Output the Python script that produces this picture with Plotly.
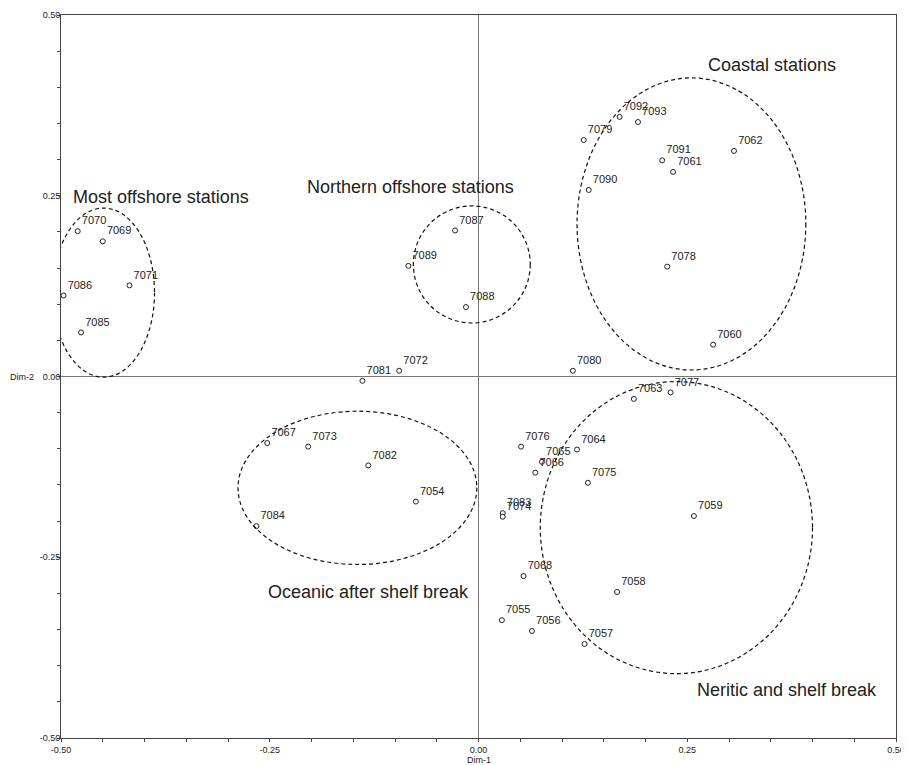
import plotly.graph_objects as go

# Station scores on the first two dimensions
stations = ["7070", "7069", "7071", "7086", "7085",
            "7087", "7089", "7088", "7072", "7081",
            "7067", "7073", "7082", "7054", "7084",
            "7068", "7058", "7055", "7056", "7057",
            "7078", "7060", "7080", "7063", "7077", "7064", "7075", "7059",
            "7092", "7093", "7079", "7062", "7091", "7061", "7090",
            "7076", "7065", "7066", "7083", "7074"]
dim1 = [-0.480, -0.450, -0.418, -0.497, -0.476,
        -0.028, -0.084, -0.015, -0.095, -0.139,
        -0.253, -0.204, -0.132, -0.075, -0.266,
        0.054, 0.166, 0.028, 0.064, 0.127,
        0.226, 0.281, 0.113, 0.186, 0.230, 0.118, 0.131, 0.258,
        0.169, 0.191, 0.126, 0.306, 0.220, 0.233, 0.132,
        0.051, 0.076, 0.068, 0.029, 0.029]
dim2 = [0.201, 0.187, 0.126, 0.112, 0.061,
        0.202, 0.153, 0.096, 0.008, -0.006,
        -0.092, -0.097, -0.123, -0.173, -0.207,
        -0.276, -0.298, -0.337, -0.352, -0.370,
        0.152, 0.044, 0.008, -0.031, -0.022, -0.101, -0.147, -0.193,
        0.359, 0.352, 0.327, 0.312, 0.299, 0.283, 0.258,
        -0.097, -0.118, -0.133, -0.189, -0.194]

# Group ellipses (centre and semi-axes in data units)
group_names = ["Most offshore stations", "Northern offshore stations",
               "Oceanic after shelf break", "Coastal stations",
               "Neritic and shelf break"]
ell_cx = [-0.449, -0.008, -0.145, 0.255, 0.237]
ell_cy = [0.116, 0.155, -0.154, 0.211, -0.209]
ell_rx = [0.061, 0.070, 0.143, 0.137, 0.163]
ell_ry = [0.117, 0.081, 0.106, 0.202, 0.202]
label_x = [-0.380, -0.081, -0.132, 0.352, 0.370]
label_y = [0.248, 0.262, -0.298, 0.431, -0.433]

tick_vals = [round(-0.5 + 0.05 * i, 2) for i in range(21)]
tick_text = [f"{v:.2f}" if abs(v * 4 - round(v * 4)) < 1e-9 else "" for v in tick_vals]

FONT = "Liberation Sans, Arial, sans-serif"

fig = go.Figure()
fig.add_trace(go.Scatter(
    x=dim1, y=dim2, mode="markers+text", text=stations,
    textposition="top right",
    textfont=dict(family=FONT, size=11, color="#222222"),
    marker=dict(size=5, color="white", line=dict(color="#222222", width=1)),
    cliponaxis=False, showlegend=False, hoverinfo="text"))

shapes = []
for cx, cy, rx, ry in zip(ell_cx, ell_cy, ell_rx, ell_ry):
    shapes.append(dict(type="circle", xref="x", yref="y",
                       x0=cx - rx, x1=cx + rx, y0=cy - ry, y1=cy + ry,
                       line=dict(color="#111111", width=1.2, dash="4px,3px")))

annotations = []
for name, lx, ly in zip(group_names, label_x, label_y):
    annotations.append(dict(x=lx, y=ly, xref="x", yref="y", text=name,
                            showarrow=False,
                            font=dict(family=FONT, size=18, color="#222222")))
annotations.append(dict(x=0, y=-0.5, xref="x", yref="y", text="Dim-1", showarrow=False,
                        yshift=-22, font=dict(family=FONT, size=9, color="#222222")))
annotations.append(dict(x=-0.5, y=0, xref="x", yref="y", text="Dim-2", showarrow=False,
                        xanchor="right", xshift=-25,
                        font=dict(family=FONT, size=9, color="#222222")))

axis_common = dict(range=[-0.5, 0.5], tickmode="array", tickvals=tick_vals, ticktext=tick_text,
                   ticks="outside", ticklen=3, tickcolor="#444444", tickwidth=1,
                   showline=True, linecolor="#444444", linewidth=1, mirror=True,
                   showgrid=False, zeroline=True, zerolinecolor="#777777", zerolinewidth=1,
                   tickfont=dict(family=FONT, size=9, color="#222222"),
                   automargin=False, fixedrange=True)

fig.update_layout(
    template="none",
    width=901, height=757,
    margin=dict(l=53, r=13, t=7, b=27),
    paper_bgcolor="white", plot_bgcolor="white",
    xaxis=dict(**axis_common),
    yaxis=dict(**axis_common, ticklabelstandoff=-5),
    shapes=shapes, annotations=annotations,
    showlegend=False)

fig.write_html("out.html")
